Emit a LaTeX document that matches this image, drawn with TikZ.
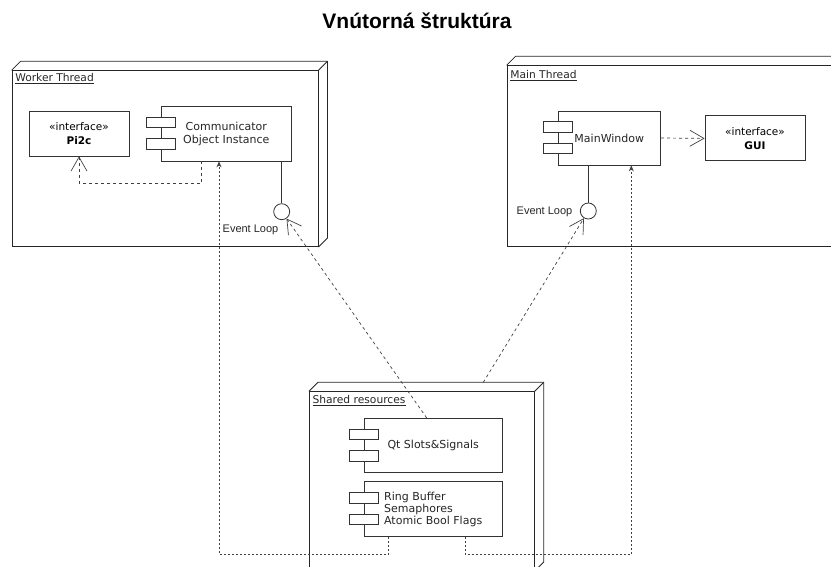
\documentclass[tikz,border=0pt]{standalone}
\usepackage{fontspec}
\setmainfont{DejaVu Sans}
\newfontfamily\arialfont{Liberation Sans}
\usetikzlibrary{arrows.meta,calc,positioning}

\tikzset{
  thread/.style={draw=black!85, line width=0.8pt, inner sep=0pt},
  threadlabel/.style={anchor=base west, inner sep=0pt, text=black!85,
    font=\fontsize{10.7}{13}\selectfont},
  comp/.style={draw=black!80, line width=0.8pt, fill=white, align=center,
    text=black!85, font=\fontsize{11}{13.5}\selectfont},
  port/.style={draw=black!80, line width=0.8pt, fill=white},
  iface/.style={draw=black!80, line width=0.8pt, align=center,
    minimum width=100, minimum height=45, text=black,
    font=\fontsize{10.5}{13.5}\selectfont},
  loop/.style={circle, draw=black!80, line width=0.8pt, fill=white,
    minimum size=16, inner sep=0pt},
  looplabel/.style={font=\arialfont\fontsize{11}{13}\selectfont, text=black!85},
  dep/.style={draw=black!75, line width=0.7pt, dash pattern=on 3pt off 3pt,
    -{Straight Barb[length=14pt,width=16pt]}},
  call/.style={draw=black!75, line width=0.7pt, dash pattern=on 2pt off 2pt,
    -{Stealth[length=6pt,width=5pt]}}
}

\begin{document}
\begin{tikzpicture}[x=1pt,y=-1pt]
\useasboundingbox (0,0) rectangle (831,567);
\clip (0,0) rectangle (831,567);

% Title
\node[anchor=base, font=\arialfont\bfseries\fontsize{21}{25}\selectfont] (title)
    at (417,28.5) {Vnútorná štruktúra};

% Thread nodes (front faces)
\node[thread, minimum width=306, minimum height=176] (worker) at (165,158.7) {};
\node[thread, minimum width=343, minimum height=181] (mainthr) at (678.5,156.2) {};
\node[thread, minimum width=225, minimum height=179] (shared) at (421.8,481.2) {};

% Depth of the 3D boxes
\foreach \n in {worker,mainthr,shared} {
  \draw[black!85, line width=0.8pt] (\n.north west) -- ++(9,-9)
      -- ($(\n.north east)+(9,-9)$) -- ($(\n.south east)+(9,-9)$) -- (\n.south east);
  \draw[black!85, line width=0.8pt] (\n.north east) -- ++(9,-9);
}

% Node labels
\node[threadlabel] (workerlbl) at ([shift={(3.5,11.5)}]worker.north west) {\underline{Worker Thread}};
\node[threadlabel] (mainlbl) at ([shift={(3.5,13)}]mainthr.north west) {\underline{Main Thread}};
\node[threadlabel] (sharedlbl) at ([shift={(3.5,12.5)}]shared.north west) {\underline{Shared resources}};

% Interfaces
\node[iface] (pi2c) at (79,133.5) {«interface»\\\textbf{Pi2c}};
\node[iface] (gui) at (755,138.4) {«interface»\\\textbf{GUI}};

% Components
\node[comp, minimum width=130.7, minimum height=54.3] (comm) at (226.3,133.8)
    {Communicator\\Object Instance};
\node[comp, minimum width=102.7, minimum height=54] (mainwin) at (609.3,138) {MainWindow};
\node[comp, minimum width=138.3, minimum height=54] (slots) at (433.2,445.3) {Qt Slots\&Signals};
\node[comp, minimum width=138.3, minimum height=54.7, below=8.7pt of slots,
    align=left, font=\fontsize{11}{12}\selectfont] (ring)
    {Ring Buffer\\Semaphores\\Atomic Bool Flags};

% Component ports
\foreach \c in {comm,mainwin,slots,ring} {
  \draw[port] ($(\c.north west)+(-14.5,11)$) rectangle ++(29.5,10.5);
  \draw[port] ($(\c.north west)+(-14.5,32.5)$) rectangle ++(29.5,10.5);
}

% Event loops
\node[loop] (wloop) at (281.7,211.7) {};
\node[loop] (mloop) at (588.3,211) {};
\draw[black!80, line width=0.8pt] (comm.south -| wloop) -- (wloop);
\draw[black!80, line width=0.8pt] (mainwin.south -| mloop) -- (mloop);
\node[looplabel] (wlooplbl) at (250.5,229.5) {Event Loop};
\node[looplabel] (mlooplbl) at (544.5,211.5) {Event Loop};

% Dependencies
\draw[dep] ([xshift=-25pt]comm.south) -- ++(0,22.3) -| (pi2c.south);
\draw[dep] (mainwin.east) -- (gui.west);
\draw[dep] ([xshift=-6.5pt]slots.north) -- (wloop);
\coordinate (sharedtop) at ($(shared.north)+(61.5,-9)$);
\draw[dep] (sharedtop) -- (mloop);

% Calls from the shared buffers
\draw[call] ([xshift=-45pt]ring.south) -- ++(0,17.6) -| ([xshift=-7.3pt]comm.south);
\draw[call] ([xshift=32pt]ring.south) -- ++(0,17.6) -| ([xshift=22pt]mainwin.south);
\end{tikzpicture}
\end{document}
